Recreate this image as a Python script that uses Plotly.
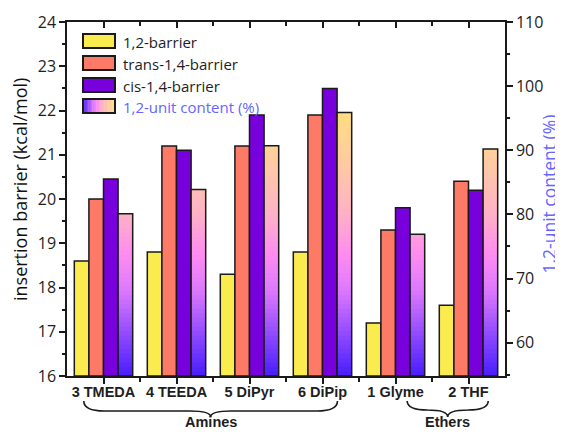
import numpy as np
import plotly.graph_objects as go
from plotly.colors import sample_colorscale

# ---------------- data ----------------
categories = ["3 TMEDA", "4 TEEDA", "5 DiPyr", "6 DiPip", "1 Glyme", "2 THF"]
barrier_12 = [18.6, 18.8, 18.3, 18.8, 17.2, 17.6]
barrier_trans14 = [20.0, 21.2, 21.2, 21.9, 19.3, 20.4]
barrier_cis14 = [20.45, 21.1, 21.9, 22.5, 19.8, 20.2]
content_12 = [80.1, 83.9, 90.7, 95.9, 76.9, 90.2]
groups = ["Amines", "Ethers"]
group_start = [-0.27, 4.16]
group_end = [3.205, 5.27]

# ---------------- style ----------------
PAGE = 8  # browser body margin offset
W, H = 563 - PAGE, 432 - PAGE
# target window-pixel plot box
PL, PR, PT, PB = 67, 505, 22, 376
ML, MR, MT, MB = PL - PAGE, W - (PR - PAGE), PT - PAGE, H - (PB - PAGE)
PW, PH = PR - PL, PB - PT
Y1 = [16, 24]
Y2 = [54.8, 110]
BW = 0.2
OFFS = [-0.4, -0.2, 0.0, 0.2]
C_YEL, C_SAL, C_PUR = "#FAEB4F", "#FC7A66", "#7800DC"
LINE = "#1a1a1a"
TXT = "#1e1e1e"
BLUEISH = "#6565FF"
GRAD = [[0.0, "#4A1EFF"], [0.17, "#9A50FF"], [0.31, "#DC78FF"], [0.45, "#FF8CF0"],
        [0.60, "#FFB2C6"], [0.80, "#FFCCA0"], [1.0, "#FFE07A"]]
G_LO, G_HI = 55.0, 97.0

x = np.arange(len(categories))
fig = go.Figure()

def barrier_trace(vals, color, name, off):
    return go.Bar(x=x, y=vals, base=Y1[0], width=BW, offset=off, name=name,
                  marker=dict(color=color, line=dict(color=LINE, width=1.5)),
                  showlegend=False, yaxis="y", xaxis="x")

# content gradient: overlay bands (drawn top band first)
edges = np.linspace(Y2[0], Y2[1], 80)
cvals = np.array(content_12)
for k in range(len(edges) - 1, 0, -1):
    lo, hi = edges[k - 1], edges[k]
    mid = (lo + hi) / 2
    frac = float(np.clip((mid - G_LO) / (G_HI - G_LO), 0, 1))
    col = sample_colorscale(GRAD, [frac])[0]
    tops = [min(v, hi) - Y2[0] if v > lo else None for v in cvals]
    if all(t is None for t in tops):
        continue
    fig.add_trace(go.Bar(x=x, y=tops, base=Y2[0], width=BW, offset=OFFS[3],
                         marker=dict(color=col, line=dict(width=0)),
                         showlegend=False, hoverinfo="skip", yaxis="y2", xaxis="x"))
fig.add_trace(go.Bar(x=x, y=cvals - Y2[0], base=Y2[0], width=BW, offset=OFFS[3],
                     name="1,2-unit content (%)",
                     marker=dict(color="rgba(0,0,0,0)", line=dict(color=LINE, width=1.5)),
                     showlegend=False, yaxis="y2", xaxis="x"))

fig.add_trace(barrier_trace(np.array(barrier_12) - Y1[0], C_YEL, "1,2-barrier", OFFS[0]))
fig.add_trace(barrier_trace(np.array(barrier_trans14) - Y1[0], C_SAL, "trans-1,4-barrier", OFFS[1]))
fig.add_trace(barrier_trace(np.array(barrier_cis14) - Y1[0], C_PUR, "cis-1,4-barrier", OFFS[2]))

# dummy trace for top mirrored axis
fig.add_trace(go.Scatter(x=[None], y=[None], xaxis="x2", yaxis="y", showlegend=False))

# ---------------- helpers for window-pixel placement ----------------
def px2paper_x(px):
    return (px - PL) / PW

def px2paper_y(py):
    return (PB - py) / PH

shapes = []
annotations = []

# legend
leg_items = [("1,2-barrier", C_YEL, TXT), ("trans-1,4-barrier", C_SAL, TXT),
             ("cis-1,4-barrier", C_PUR, TXT), ("1,2-unit content (%)", None, BLUEISH)]
row_y = [41, 63, 85, 106]
sx0, sx1, sh = 83, 115, 14
for (label, col, tcol), cy in zip(leg_items, row_y):
    y0, y1 = px2paper_y(cy + sh / 2), px2paper_y(cy - sh / 2)
    if col is None:
        n = 24
        for i in range(n):
            c = sample_colorscale(GRAD, [(i + 0.5) / n])[0]
            a = sx0 + (sx1 - sx0) * i / n
            b = sx0 + (sx1 - sx0) * (i + 1) / n + 0.4
            shapes.append(dict(type="rect", xref="paper", yref="paper",
                               x0=px2paper_x(a), x1=px2paper_x(b), y0=y0, y1=y1,
                               fillcolor=c, line=dict(width=0), layer="above"))
        shapes.append(dict(type="rect", xref="paper", yref="paper",
                           x0=px2paper_x(sx0), x1=px2paper_x(sx1), y0=y0, y1=y1,
                           fillcolor="rgba(0,0,0,0)", line=dict(color=LINE, width=2), layer="above"))
    else:
        shapes.append(dict(type="rect", xref="paper", yref="paper",
                           x0=px2paper_x(sx0), x1=px2paper_x(sx1), y0=y0, y1=y1,
                           fillcolor=col, line=dict(color=LINE, width=2), layer="above"))
    annotations.append(dict(text=label, xref="paper", yref="paper", x=px2paper_x(121),
                            y=px2paper_y(cy + 1), xanchor="left", yanchor="middle",
                            showarrow=False, font=dict(family="Open Sans", size=15, color=tcol)))

# axis titles
annotations.append(dict(text="insertion barrier (kcal/mol)", xref="paper", yref="paper",
                        x=px2paper_x(20), y=px2paper_y(190), xanchor="center", yanchor="middle",
                        textangle=-90, showarrow=False,
                        font=dict(family="Open Sans", size=18, color="#111111")))
annotations.append(dict(text="1,2-unit content (%)", xref="paper", yref="paper",
                        x=px2paper_x(562.5), y=px2paper_y(194), xanchor="right", yanchor="middle",
                        textangle=-90, showarrow=False,
                        font=dict(family="Open Sans", size=17.5, color=BLUEISH)))

# braces
brace_y = [(401, 411, 417), (401, 410, 417)]
for g, s, e, (yt, ym, ytip) in zip(groups, group_start, group_end, brace_y):
    m = (s + e) / 2
    d = 0.28
    Yt, Ym, Yp = px2paper_y(yt), px2paper_y(ym), px2paper_y(ytip)
    path = (f"M {s},{Yt} Q {s},{Ym} {s + d},{Ym} L {m - d},{Ym} Q {m},{Ym} {m},{Yp} "
            f"Q {m},{Ym} {m + d},{Ym} L {e - d},{Ym} Q {e},{Ym} {e},{Yt}")
    shapes.append(dict(type="path", xref="x", yref="paper", path=path,
                       line=dict(color=LINE, width=1.6)))
    annotations.append(dict(text=g, xref="x", yref="paper", x=m, y=px2paper_y(431.5),
                            xanchor="center", yanchor="bottom", showarrow=False,
                            font=dict(family="Liberation Sans", size=14.5, color=TXT, weight="bold")))

fig.update_layout(
    width=W, height=H, margin=dict(l=ML, r=MR, t=MT, b=MB, autoexpand=False),
    paper_bgcolor="white", plot_bgcolor="white", barmode="overlay",
    shapes=shapes, annotations=annotations, showlegend=False,
    xaxis=dict(range=[-0.5, len(categories) - 0.5], tickvals=list(x), ticktext=categories,
               automargin=False, ticklabelstandoff=-4,
               ticks="outside", ticklen=6, tickwidth=1.5, tickcolor=LINE,
               showline=True, linecolor=LINE, linewidth=1.5, showgrid=False, zeroline=False,
               tickfont=dict(family="Liberation Sans", size=14.5, color=TXT, weight="bold"),
               minor=dict(tickvals=list(x[:-1] + 0.5), ticks="outside", ticklen=4,
                          tickwidth=1.5, tickcolor=LINE)),
    xaxis2=dict(overlaying="x", side="top", range=[-0.5, len(categories) - 0.5],
                automargin=False,
                tickvals=list(x), ticks="inside", ticklen=6, tickwidth=1.5, tickcolor=LINE,
                showticklabels=False, showline=True, linecolor=LINE, linewidth=1.5,
                showgrid=False, zeroline=False,
                minor=dict(tickvals=list(x[:-1] + 0.5), ticks="inside", ticklen=4,
                           tickwidth=1.5, tickcolor=LINE)),
    yaxis=dict(range=Y1, dtick=1, ticks="outside", ticklen=6, tickwidth=1.5, tickcolor=LINE,
               automargin=False,
               showline=True, linecolor=LINE, linewidth=1.5, showgrid=False, zeroline=False,
               tickfont=dict(family="Open Sans", size=16, color=TXT),
               minor=dict(dtick=0.5, ticks="outside", ticklen=3, tickwidth=1.5, tickcolor=LINE)),
    yaxis2=dict(overlaying="y", side="right", range=Y2, tickvals=[60, 70, 80, 90, 100, 110],
                automargin=False,
                ticks="outside", ticklen=6, tickwidth=1.5, tickcolor=LINE,
                showline=True, linecolor=LINE, linewidth=1.5, showgrid=False, zeroline=False,
                tickfont=dict(family="Open Sans", size=16, color=TXT),
                minor=dict(tickvals=[55, 65, 75, 85, 95, 105], ticks="outside", ticklen=3,
                           tickwidth=1.5, tickcolor=LINE)),
)

fig.write_html("out.html")
